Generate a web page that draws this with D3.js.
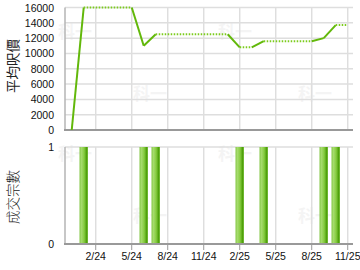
<!DOCTYPE html>
<html>
<head>
<meta charset="utf-8">
<script src="https://cdn.jsdelivr.net/npm/d3@7"></script>
<style>
  body { margin: 0; background: #fff; }
  svg { display: block; font-family: "Liberation Sans", Arial, sans-serif; }
  .grid line { stroke: #dedede; stroke-width: 1.5; }
  .tick-label { font-size: 10.5px; fill: #111; }
  .axis-title { font-size: 13.5px; fill: #222; }
</style>
</head>
<body>
<svg id="chart" width="360" height="270"></svg>
<script>
"use strict";

// Monthly data, Dec 2023 .. Nov 2025
const months = [
  "2023-12", "2024-01", "2024-02", "2024-03", "2024-04", "2024-05",
  "2024-06", "2024-07", "2024-08", "2024-09", "2024-10", "2024-11",
  "2024-12", "2025-01", "2025-02", "2025-03", "2025-04", "2025-05",
  "2025-06", "2025-07", "2025-08", "2025-09", "2025-10", "2025-11",
];
const avgPrice = [
  0, 16000, 16000, 16000, 16000, 16000,
  11000, 12500, 12500, 12500, 12500, 12500,
  12500, 12500, 10800, 10800, 11600, 11600,
  11600, 11600, 11600, 12000, 13700, 13700,
];
const dealCount = [
  0, 1, 0, 0, 0, 0,
  1, 1, 0, 0, 0, 0,
  0, 0, 1, 0, 1, 0,
  0, 0, 0, 1, 1, 0,
];
const tickMonths = [2, 5, 8, 11, 14, 17, 20, 23];
const tickLabels = ["2/24", "5/24", "8/24", "11/24", "2/25", "5/25", "8/25", "11/25"];
const priceTicks = [0, 2000, 4000, 6000, 8000, 10000, 12000, 14000, 16000];
const countTicks = [0, 1];
const watermarks = [[75, 38], [150, 100], [235, 38], [315, 100], [75, 160], [150, 222], [235, 160], [315, 222]];

const svg = d3.select("#chart");
const left = 65, right = 353;

const x = d3.scaleLinear().domain([-0.56, 23.44]).range([left, right]);
const yPrice = d3.scaleLinear().domain([0, 16000]).range([130, 7.5]);
const yCount = d3.scaleLinear().domain([0, 1]).range([244, 147]);

// Faint watermarks
svg.append("g")
  .selectAll("text")
  .data(watermarks)
  .enter()
  .append("text")
  .attr("x", d => d[0])
  .attr("y", d => d[1])
  .attr("text-anchor", "middle")
  .attr("font-family", "Noto Sans CJK TC")
  .attr("font-weight", "bold")
  .attr("font-size", 17)
  .attr("fill", "#000")
  .attr("opacity", 0.04)
  .text("科一");

function drawGrid(y, ticks, top, bottom) {
  const g = svg.append("g").attr("class", "grid");
  g.selectAll("line.h")
    .data(ticks.filter(t => t > 0))
    .enter()
    .append("line")
    .attr("class", "h")
    .attr("x1", left).attr("x2", right)
    .attr("y1", d => y(d)).attr("y2", d => y(d));
  g.selectAll("line.v")
    .data(tickMonths)
    .enter()
    .append("line")
    .attr("class", "v")
    .attr("x1", d => x(d)).attr("x2", d => x(d))
    .attr("y1", top).attr("y2", bottom);

  // y tick labels
  svg.append("g")
    .selectAll("text")
    .data(ticks)
    .enter()
    .append("text")
    .attr("class", "tick-label")
    .attr("x", 54)
    .attr("y", d => y(d) + 4)
    .attr("text-anchor", "end")
    .text(d => "" + d);

  // axes
  svg.append("line")
    .attr("x1", left).attr("x2", left)
    .attr("y1", top).attr("y2", bottom)
    .attr("stroke", "#b4b4b4").attr("stroke-width", 1.5);
  svg.append("line")
    .attr("x1", left - 1).attr("x2", right)
    .attr("y1", bottom).attr("y2", bottom)
    .attr("stroke", "#999").attr("stroke-width", 2);
}

drawGrid(yPrice, priceTicks, yPrice(16000), yPrice(0));
drawGrid(yCount, countTicks, yCount(1), yCount(0));

// Price line: segments ending in a month with deals are solid, others dotted
const segments = [];
for (let i = 1; i < months.length; i++) {
  segments.push({from: i - 1, to: i, solid: dealCount[i] > 0});
}
const line = d3.line().x(d => x(d)).y(d => yPrice(avgPrice[d]));
svg.append("g")
  .selectAll("path")
  .data(segments)
  .enter()
  .append("path")
  .attr("d", s => line([s.from, s.to]))
  .attr("fill", "none")
  .attr("stroke", s => s.solid ? "#62b80a" : "#7dcc1e")
  .attr("stroke-width", 2)
  .attr("stroke-dasharray", s => s.solid ? null : "1.5,1.5");

// Bars
const grad = svg.append("defs").append("linearGradient")
  .attr("id", "barGrad")
  .attr("x1", "0%").attr("x2", "100%").attr("y1", "0%").attr("y2", "0%");
grad.append("stop").attr("offset", "0%").attr("stop-color", "#7cc43a");
grad.append("stop").attr("offset", "20%").attr("stop-color", "#a8dc70");
grad.append("stop").attr("offset", "55%").attr("stop-color", "#86cc40");
grad.append("stop").attr("offset", "85%").attr("stop-color", "#4c9e08");
grad.append("stop").attr("offset", "100%").attr("stop-color", "#6cb82a");

const barWidth = 8.4;
svg.append("g")
  .selectAll("rect")
  .data(months.map((m, i) => i).filter(i => dealCount[i] > 0))
  .enter()
  .append("rect")
  .attr("x", i => x(i) - barWidth / 2)
  .attr("y", i => yCount(dealCount[i]))
  .attr("width", barWidth)
  .attr("height", i => yCount(0) - yCount(dealCount[i]) - 1)
  .attr("fill", "url(#barGrad)");

// x ticks + labels on the bottom chart
svg.append("g")
  .selectAll("line")
  .data(tickMonths)
  .enter()
  .append("line")
  .attr("x1", d => x(d)).attr("x2", d => x(d))
  .attr("y1", 244).attr("y2", 250)
  .attr("stroke", "#999").attr("stroke-width", 1);
svg.append("g")
  .selectAll("text")
  .data(tickMonths)
  .enter()
  .append("text")
  .attr("class", "tick-label")
  .attr("x", d => x(d))
  .attr("y", 260)
  .attr("text-anchor", "middle")
  .text((d, i) => tickLabels[i]);

// Axis titles
svg.append("text")
  .attr("class", "axis-title")
  .attr("transform", "translate(18,66) rotate(-90)")
  .attr("text-anchor", "middle")
  .attr("font-family", "Noto Sans CJK TC")
  .text("平均呎價");
svg.append("text")
  .attr("class", "axis-title")
  .attr("transform", "translate(18,197) rotate(-90)")
  .attr("text-anchor", "middle")
  .attr("font-family", "Noto Sans CJK TC")
  .attr("font-weight", 300)
  .text("成交宗數");
</script>
</body>
</html>
